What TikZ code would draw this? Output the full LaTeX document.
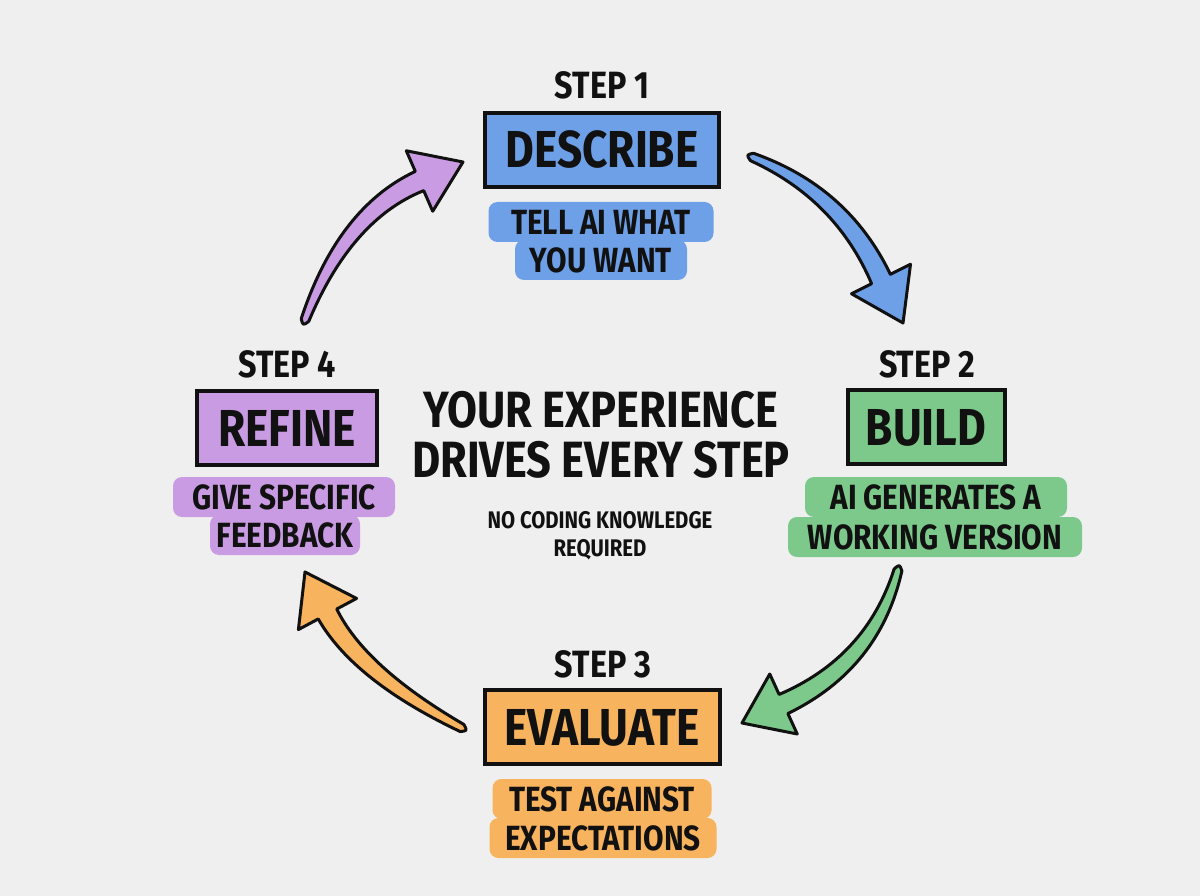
\documentclass[tikz,border=0pt]{standalone}
\usepackage{fontspec}
\newfontfamily\comic{Fira Sans}[FakeStretch=0.85]
\usetikzlibrary{calc}
\definecolor{bg}{HTML}{EFEFEF}
\definecolor{ink}{HTML}{111111}
\definecolor{cblue}{HTML}{6EA0E8}
\definecolor{cgreen}{HTML}{7DC98B}
\definecolor{corange}{HTML}{F7B35E}
\definecolor{cpurple}{HTML}{C99BE3}
\newcommand{\fs}[1]{\fontsize{#1}{#1}\selectfont}
\newcommand{\bentarrow}[2]{%
 \coordinate (#1t1) at ($(#1T)!4pt!90:(#1C)$);
 \coordinate (#1t2) at ($(#1T)!4pt!-90:(#1C)$);
 \coordinate (#1o1) at ($(#1T)!9pt!90:(#1E)$);
 \coordinate (#1o2) at ($(#1T)!9pt!-90:(#1E)$);
 \coordinate (#1c1) at ($(#1C)+(#1o1)-(#1T)$);
 \coordinate (#1c2) at ($(#1C)+(#1o2)-(#1T)$);
 \coordinate (#1x1) at ($(#1E)!10.5pt!90:(#1P)$);
 \coordinate (#1x2) at ($(#1E)!10.5pt!-90:(#1P)$);
 \coordinate (#1h1) at ($(#1E)!33pt!90:(#1P)$);
 \coordinate (#1h2) at ($(#1E)!33pt!-90:(#1P)$);
 \coordinate (#1tb) at ($(#1T)!6pt!180:(#1C)$);
 \filldraw[fill=#2, draw=ink, line width=3pt, line join=round]
  (#1t1) .. controls ($(#1t1)!0.667!(#1c1)$) and ($(#1x1)!0.667!(#1c1)$) .. (#1x1)
  -- (#1h1) -- (#1P) -- (#1h2) -- (#1x2)
  .. controls ($(#1x2)!0.667!(#1c2)$) and ($(#1t2)!0.667!(#1c2)$) .. (#1t2)
  .. controls (#1tb) .. (#1t1) -- cycle;
}
\begin{document}
\begin{tikzpicture}[x=1pt,y=-1pt,
  every node/.style={text=ink, inner sep=0pt},
  steplabel/.style={font=\comic\bfseries\fs{38}, text height=26pt, text depth=0pt},
  titlebox/.style={draw=ink, line width=4pt, minimum height=74pt,
     font=\comic\bfseries\fs{52}, text height=36pt, text depth=0pt},
  subline/.style={rounded corners=9pt, minimum height=40pt,
     font=\comic\bfseries\fs{35}, text height=25pt, text depth=0pt},
  bigline/.style={font=\comic\bfseries\fs{51}, text height=35pt, text depth=0pt},
  smallline/.style={font=\comic\bfseries\fs{24}, text height=17pt, text depth=0pt}]
\fill[bg] (0,0) rectangle (1200,896);
\useasboundingbox (0,0) rectangle (1200,896);

% Step 1
\node[steplabel] (s1) at (602,86) {STEP 1};
\node[titlebox, fill=cblue, minimum width=234pt] (b1) at (602,150) {DESCRIBE};
\node[subline, fill=cblue, minimum width=225pt] (d1a) at (601,222) {TELL AI WHAT};
\node[subline, fill=cblue, minimum width=172pt] (d1b) at (601,260) {YOU WANT};

% Step 2
\node[steplabel] (s2) at (927,364) {STEP 2};
\node[titlebox, fill=cgreen, minimum width=157pt] (b2) at (926,427) {BUILD};
\node[subline, fill=cgreen, minimum width=262pt] (d2a) at (936,497) {AI GENERATES A};
\node[subline, fill=cgreen, minimum width=294pt] (d2b) at (935,537) {WORKING VERSION};

% Step 3
\node[steplabel] (s3) at (603,664) {STEP 3};
\node[titlebox, fill=corange, minimum width=235pt] (b3) at (602,727) {EVALUATE};
\node[subline, fill=corange, minimum width=219pt] (d3a) at (602,799) {TEST AGAINST};
\node[subline, fill=corange, minimum width=227pt] (d3b) at (603,838) {EXPECTATIONS};

% Step 4
\node[steplabel] (s4) at (287,364) {STEP 4};
\node[titlebox, fill=cpurple, minimum width=180pt] (b4) at (287,428) {REFINE};
\node[subline, fill=cpurple, minimum width=222pt] (d4a) at (284,497) {GIVE SPECIFIC};
\node[subline, fill=cpurple, minimum width=150pt] (d4b) at (285,535) {FEEDBACK};

% Centre
\node[bigline] (c1) at (601,410) {YOUR EXPERIENCE};
\node[bigline] (c2) at (601,460) {DRIVES EVERY STEP};
\node[smallline] (c3) at (600,520) {NO CODING KNOWLEDGE};
\node[smallline] (c4) at (600,548) {REQUIRED};

% Arrows
\coordinate (bT) at (752,157); \coordinate (bC) at (842,193);
\coordinate (bE) at (881,279); \coordinate (bP) at (903,323);
\bentarrow{b}{cblue}
\coordinate (gT) at (898,570); \coordinate (gC) at (873,663);
\coordinate (gE) at (783.5,704); \coordinate (gP) at (742,723);
\bentarrow{g}{cgreen}
\coordinate (oT) at (462,728); \coordinate (oC) at (359.5,674);
\coordinate (oE) at (327.5,614); \coordinate (oP) at (305,572);
\bentarrow{o}{corange}
\coordinate (pT) at (305,320); \coordinate (pC) at (344.6,213.7);
\coordinate (pE) at (419.5,181); \coordinate (pP) at (463,162);
\bentarrow{p}{cpurple}
\end{tikzpicture}
\end{document}
